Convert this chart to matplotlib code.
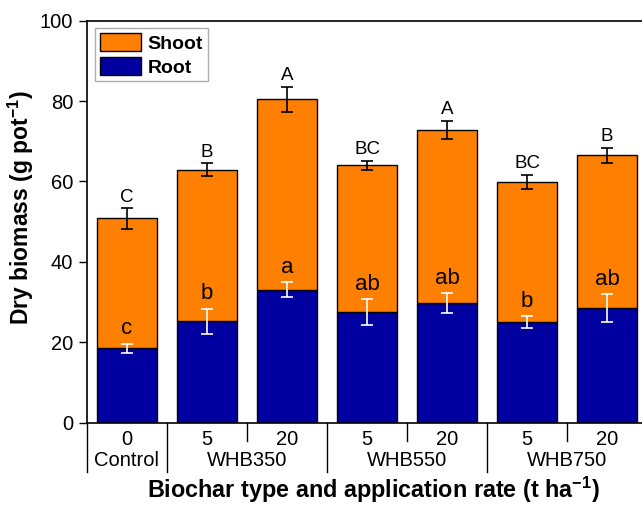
import matplotlib
matplotlib.use('Agg')
import matplotlib.pyplot as plt
import matplotlib.transforms as mtransforms
import numpy as np

plt.rcParams['font.family'] = ['Liberation Sans', 'DejaVu Sans']
plt.rcParams['mathtext.fontset'] = 'custom'
plt.rcParams['mathtext.rm'] = 'Liberation Sans'
plt.rcParams['mathtext.bf'] = 'Liberation Sans:bold'

# dry biomass (g/pot) per treatment
rates = ['0', '5', '20', '5', '20', '5', '20']
groups = ['Control', 'WHB350', 'WHB550', 'WHB750']
group_centers = [0, 1.5, 3.5, 5.5]
root = [18.5, 25.2, 33.1, 27.5, 29.7, 25.1, 28.5]
root_err = [1.2, 3.2, 1.85, 3.3, 2.5, 1.5, 3.4]
total = [50.8, 62.9, 80.4, 64.0, 72.8, 59.9, 66.5]
total_err = [2.5, 1.6, 3.1, 1.2, 2.2, 1.65, 1.9]
root_letters = ['c', 'b', 'a', 'ab', 'ab', 'b', 'ab']
total_letters = ['C', 'B', 'A', 'BC', 'A', 'BC', 'B']

shoot = np.array(total) - np.array(root)
x = np.arange(len(rates))

fig = plt.figure(figsize=(6.42, 5.05), dpi=100)
ax = fig.add_axes([87 / 642, 82.3 / 505, 560 / 642, 402 / 505])

ax.bar(x, root, width=0.76, color='#0000A0', edgecolor='black', linewidth=1.0, label='Root', zorder=2)
ax.bar(x, shoot, bottom=root, width=0.76, color='#FF8000', edgecolor='black', linewidth=1.0,
       label='Shoot', zorder=2)
ax.errorbar(x, total, yerr=total_err, fmt='none', ecolor='black', elinewidth=1.2, capsize=4.5,
            capthick=1.2, zorder=3)
ax.errorbar(x, root, yerr=root_err, fmt='none', ecolor='white', elinewidth=1.2, capsize=4.5,
            capthick=1.2, zorder=3)

for xi, t, e, lab in zip(x, total, total_err, total_letters):
    ax.annotate(lab, (xi, t + e), xytext=(0, 2), textcoords='offset points', ha='center',
                va='bottom', fontsize=13.5)
for xi, r, e, lab in zip(x, root, root_err, root_letters):
    ax.annotate(lab, (xi, r + e), xytext=(0, 3), textcoords='offset points', ha='center',
                va='bottom', fontsize=16)

ax.set_xlim(-0.5, 6.5)
ax.set_ylim(0, 100)
ax.set_yticks(range(0, 101, 20))
ax.tick_params(axis='y', direction='out', length=6, width=1.0, labelsize=14.5, pad=4)
ax.set_xticks(x)
ax.set_xticklabels(rates, fontsize=14.5)
ax.tick_params(axis='x', length=0, pad=5)
for s in ax.spines.values():
    s.set_linewidth(1.2)

# group labels and separators below the axis
trans = mtransforms.blended_transform_factory(ax.transData, ax.transAxes)
for gx, g in zip(group_centers, groups):
    ax.text(gx, -0.095, g, transform=trans, ha='center', va='center', fontsize=14.5)
for sx in [-0.5, 0.5, 2.5, 4.5, 6.5]:
    ax.plot([sx, sx], [0, -0.122], transform=trans, color='black', lw=1.0, clip_on=False)
for sx in [1.5, 3.5, 5.5]:
    ax.plot([sx, sx], [0, -0.045], transform=trans, color='black', lw=1.0, clip_on=False)

ax.set_ylabel('Dry biomass (g pot$^{\\mathbf{-1}}$)', fontsize=16.5, fontweight='bold')
ax.yaxis.set_label_coords(-0.091, 0.535)
fig.text(373 / 642, 1 - 498 / 505, 'Biochar type and application rate (t ha$^{\\mathbf{-1}}$)',
         ha='center', va='baseline', fontsize=16.8, fontweight='bold')

handles, labels = ax.get_legend_handles_labels()
leg = ax.legend(handles[::-1], labels[::-1], loc='upper left', prop={'weight': 'bold', 'size': 14},
                frameon=True, fancybox=False, edgecolor='#999999', handlelength=2.15, handleheight=1.05,
                handletextpad=0.3, labelspacing=0.2, borderpad=0.25, borderaxespad=0.4)
leg.get_frame().set_linewidth(1.0)

fig.savefig('out.png', dpi=100)
